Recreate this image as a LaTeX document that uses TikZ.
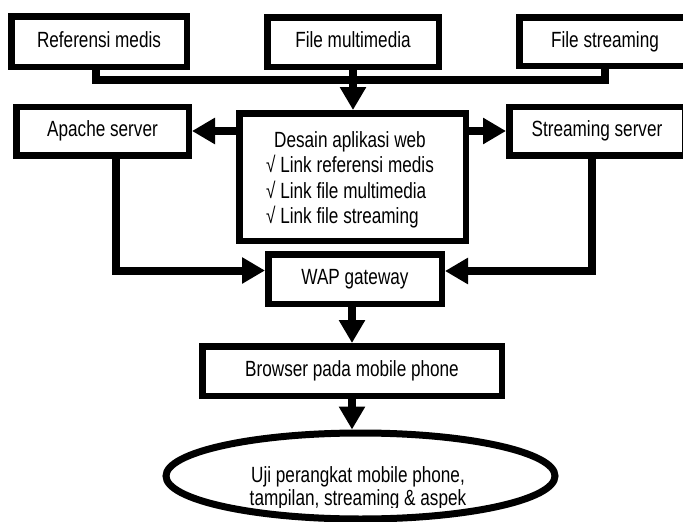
\documentclass[tikz,border=0pt]{standalone}
\usepackage{fontspec}
\setmainfont{Liberation Sans}[FakeStretch=0.78]
\usetikzlibrary{arrows.meta,shapes.geometric,calc}
\begin{document}
\begin{tikzpicture}[x=1pt,y=-1pt,
  txt/.style={font=\fontsize{22}{25.5}\selectfont},
  box/.style={draw,line width=6.5pt,inner sep=0pt,txt,text height=15.5pt,text depth=4.5pt},
  bigbox/.style={draw,line width=6.5pt,inner sep=0pt},
  conn/.style={line width=8pt,line join=miter},
  arr/.style={conn,-{Triangle[length=23pt,width=25pt]}},
]
\useasboundingbox (0,0) rectangle (683,522);
\clip (0,0) rectangle (683,522);

% top row
\node[box,minimum width=175.5pt,minimum height=50.5pt] (ref) at (99,41.5) {Referensi medis};
\node[box,minimum width=171.5pt,minimum height=49.5pt] (fm) at (353,42) {File multimedia};
\node[box,minimum width=171.5pt,minimum height=48.5pt] (fs) at (605,41.5) {File streaming};

% middle row
\node[box,minimum width=172.5pt,minimum height=48.5pt] (ap) at (102.5,131) {Apache server};
\node[box,minimum width=175.5pt,minimum height=48.5pt] (ss) at (597,131) {Streaming server};
\node[bigbox,minimum width=226.5pt,minimum height=127.5pt] (ds) at (352.5,177) {};
\node[txt,inner sep=0pt,anchor=base] (dst) at (350,147)
  {\begin{tabular}[t]{@{}l@{}}\multicolumn{1}{@{}c@{}}{Desain aplikasi web}\\
   √ Link referensi medis\\ √ Link file multimedia\\ √ Link file streaming\end{tabular}};

% lower part
\node[box,minimum width=173.5pt,minimum height=49.5pt] (wap) at (355,279) {WAP gateway};
\node[box,minimum width=299.5pt,minimum height=49.5pt] (br) at (352,371) {Browser pada mobile phone};
\node[draw,ellipse,line width=7pt,minimum width=389pt,minimum height=86pt,inner sep=0pt] (ell) at (360.5,476) {};
\node[txt,anchor=base,inner sep=0pt] (e1) at (358,482) {Uji perangkat mobile phone,};
\begin{scope}
  \clip (150,400) rectangle (570,507);
  \node[txt,anchor=base,inner sep=0pt] (e2) at (358,505) {tampilan, streaming \& aspek};
\end{scope}

% connectors
\coordinate (j1) at (96,79.5);
\coordinate (j2) at (605,79.5);
\draw[conn] (ref.south -| j1) -- (j1) -- (j2) -- (fs.south);
\draw[arr] (fm.south) -- (fm.south |- ds.north);
\draw[arr] (ap.east -| ds.west) -- (ap.east);
\draw[arr] (ss.west -| ds.east) -- (ss.west);
\coordinate (apc) at (116,270.5);
\coordinate (ssc) at (592,271);
\draw[arr] (ap.south -| apc) -- (apc) -- (apc -| wap.west);
\draw[arr] (ss.south -| ssc) -- (ssc) -- (ssc -| wap.east);
\draw[arr] (wap.south -| br.north) -- (br.north);
\draw[arr] (br.south) -- (br.south |- ell.north);
\end{tikzpicture}
\end{document}
